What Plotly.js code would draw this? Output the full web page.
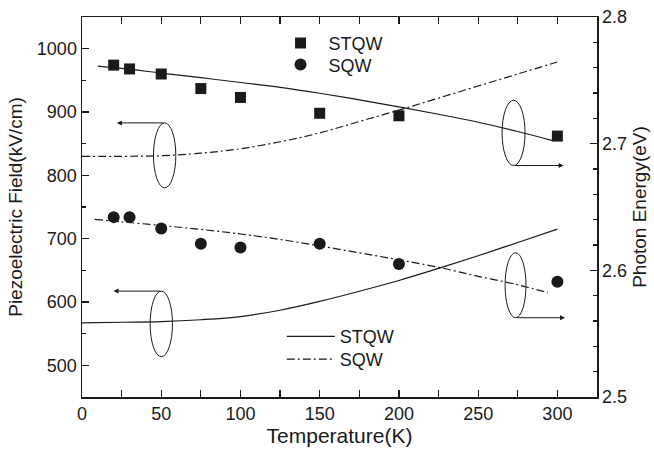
<!DOCTYPE html>
<html>
<head>
<meta charset="utf-8">
<script src="https://cdn.plot.ly/plotly-3.0.1.min.js"></script>
<style>
html,body{margin:0;padding:0;background:#fff;}
#chart{width:654px;height:455px;}
</style>
</head>
<body>
<div id="chart"></div>
<script>
// Measured points (photon energy, eV)
const tempPoints = [20, 30, 50, 75, 100, 150, 200, 300];
const stqwEnergyPts = [2.762, 2.759, 2.755, 2.7435, 2.7365, 2.724, 2.722, 2.706];
const sqwEnergyPts = [2.642, 2.642, 2.633, 2.621, 2.618, 2.621, 2.605, 2.591];

// Calculated piezoelectric field (kV/cm)
const tempField = [0, 25, 50, 75, 100, 125, 150, 175, 200, 225, 250, 275, 300];
const stqwField = [567, 568, 569, 572, 577, 587, 601, 617, 634, 653, 673, 694, 715];
const sqwField = [830, 830, 831, 835, 842, 853, 867, 885, 903, 922, 941, 960, 979];

// Calculated photon energy (eV)
const tempStqwE = [10, 25, 50, 75, 100, 125, 150, 175, 200, 225, 250, 275, 297];
const stqwEnergy = [2.7612, 2.7594, 2.7557, 2.7521, 2.7483, 2.7445, 2.7398, 2.7346, 2.7291, 2.7232, 2.7169, 2.7096, 2.7024];
const tempSqwE = [8, 25, 50, 75, 100, 125, 150, 175, 200, 225, 250, 275, 294];
const sqwEnergy = [2.6402, 2.6383, 2.6354, 2.6323, 2.6287, 2.6244, 2.6193, 2.6138, 2.6083, 2.6024, 2.5953, 2.5886, 2.5824];

const names = ['STQW', 'SQW'];
const ink = '#1a1a1a';
const dashDot = '8px,3px,2px,3px';
const font = 'Liberation Sans, Arial, Helvetica, sans-serif';

const traces = [
  {x: tempField, y: stqwField, mode: 'lines', name: names[0], yaxis: 'y',
   line: {color: ink, width: 1.2, shape: 'spline'}, legend: 'legend3', showlegend: true},
  {x: tempField, y: sqwField, mode: 'lines', name: names[1], yaxis: 'y',
   line: {color: ink, width: 1.2, dash: dashDot, shape: 'spline'}, legend: 'legend4', showlegend: true},
  {x: tempStqwE, y: stqwEnergy, mode: 'lines', name: names[0], yaxis: 'y2',
   line: {color: ink, width: 1.2, shape: 'spline'}, showlegend: false},
  {x: tempSqwE, y: sqwEnergy, mode: 'lines', name: names[1], yaxis: 'y2',
   line: {color: ink, width: 1.2, dash: dashDot, shape: 'spline'}, showlegend: false},
  {x: tempPoints, y: stqwEnergyPts, mode: 'markers', name: names[0], yaxis: 'y2',
   marker: {symbol: 'square', size: 11, color: ink}, legend: 'legend', showlegend: true},
  {x: tempPoints, y: sqwEnergyPts, mode: 'markers', name: names[1], yaxis: 'y2',
   marker: {symbol: 'circle', size: 12, color: ink}, legend: 'legend2', showlegend: true}
];

function ellipse(x0, x1, y0, y1) {
  return {type: 'circle', xref: 'x', yref: 'y', x0: x0, x1: x1, y0: y0, y1: y1,
          line: {color: ink, width: 1}};
}
function arrow(xTail, xHead, yv) {
  return {x: xHead, y: yv, ax: xTail, ay: yv, xref: 'x', yref: 'y', axref: 'x', ayref: 'y',
          showarrow: true, arrowhead: 2, arrowsize: 1, arrowwidth: 1, arrowcolor: ink, text: ''};
}
function legendBox(xp, yp, itemw) {
  return {x: xp, y: yp, xanchor: 'left', yanchor: 'middle', bgcolor: 'rgba(0,0,0,0)',
          itemwidth: itemw, font: {family: font, size: 18, color: ink}};
}

const axisCommon = {
  showline: true, linecolor: ink, linewidth: 1.5, ticks: 'inside', ticklen: 7, tickwidth: 1.2,
  tickcolor: ink, showgrid: false, zeroline: false,
  tickfont: {family: font, size: 18, color: ink},
  minor: {ticks: 'inside', ticklen: 4, tickwidth: 1.2, tickcolor: ink, showgrid: false}
};

const layout = {
  width: 654, height: 455,
  margin: {l: 82, r: 57, t: 17, b: 58},
  paper_bgcolor: '#fff', plot_bgcolor: '#fff',
  font: {family: font, color: ink},
  xaxis: Object.assign({}, axisCommon, {
    range: [0, 325], dtick: 50, tick0: 0, mirror: 'allticks',
    minor: Object.assign({}, axisCommon.minor, {dtick: 25}),
    title: {text: 'Temperature(K)', font: {family: font, size: 21, color: ink}, standoff: 5}
  }),
  yaxis: Object.assign({}, axisCommon, {
    range: [450, 1050], dtick: 100, tick0: 0,
    minor: Object.assign({}, axisCommon.minor, {dtick: 50}),
    title: {text: 'Piezoelectric Field(kV/cm)', font: {family: font, size: 19, color: ink}, standoff: 9}
  }),
  yaxis2: Object.assign({}, axisCommon, {
    range: [2.5, 2.8], dtick: 0.1, tick0: 2.5, overlaying: 'y', side: 'right',
    tickformat: '.1f',
    minor: Object.assign({}, axisCommon.minor, {dtick: 0.02}),
    title: {text: 'Photon Energy(eV)', font: {family: font, size: 19, color: ink}, standoff: 6}
  }),
  legend: legendBox(0.370, 0.931, 46),
  legend2: legendBox(0.370, 0.874, 46),
  legend3: legendBox(0.388, 0.159, 48),
  legend4: legendBox(0.388, 0.099, 48),
  shapes: [
    ellipse(45.1, 59.2, 780.3, 882.8),
    ellipse(43.0, 57.1, 513.7, 617.2),
    ellipse(265.1, 279.6, 815.5, 918.5),
    ellipse(267.0, 280.2, 575.2, 677.8)
  ],
  annotations: [
    arrow(52.5, 22.0, 882.8),
    arrow(50.4, 19.9, 617.2),
    arrow(272.4, 303.9, 815.5),
    arrow(273.5, 304.8, 575.2)
  ]
};

Plotly.newPlot('chart', traces, layout, {displayModeBar: false, staticPlot: true});
</script>
</body>
</html>
